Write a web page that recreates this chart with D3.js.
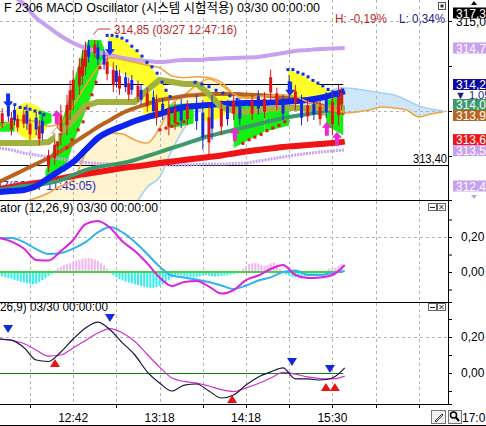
<!DOCTYPE html>
<html><head><meta charset="utf-8">
<script src="https://cdn.jsdelivr.net/npm/d3@7/dist/d3.min.js"></script>
<style>
html,body{margin:0;padding:0;background:#fff;overflow:hidden}
svg{display:block}
text{font-family:"Liberation Sans","Noto Sans CJK KR",sans-serif;}
</style></head><body>
<svg id="chart" width="486" height="426"></svg>
<script>
// ---------------- data ----------------
const sampleIdx = [0,4,8,12,16,20,24,28,32,36,40,44,48,52,56,60,64,68,72,76,80,84,88,92,96,100,104,108,112];
const maLilac = [315.367,315.289,315.189,315.033,314.933,314.833,314.756,314.7,314.656,314.622,314.589,314.567,314.556,314.544,314.556,314.567,314.567,314.578,314.583,314.589,314.594,314.6,314.622,314.644,314.667,314.678,314.689,314.694,314.7];
const bandLower = [313.589,313.567,313.533,313.511,313.489,313.467,313.444,313.428,313.417,313.411,313.406,313.4,313.4,313.4,313.4,313.4,313.406,313.411,313.411,313.417,313.422,313.444,313.467,313.489,313.511,313.528,313.544,313.556,313.567];
const maRed = [313.133,313.156,313.178,313.2,313.222,313.25,313.278,313.3,313.322,313.344,313.367,313.383,313.4,313.422,313.439,313.456,313.472,313.489,313.506,313.528,313.55,313.567,313.583,313.6,313.611,313.622,313.633,313.644,313.66];
const maTeal = [313.122,313.144,313.167,313.178,313.2,313.233,313.289,313.344,313.378,313.4,313.422,313.456,313.5,313.544,313.589,313.633,313.678,313.722,313.756,313.789,313.822,313.856,313.889,313.922,313.944,313.967,313.989,314.011,314.033];
const maBlue = [313.1,313.111,313.122,313.167,313.256,313.344,313.433,313.567,313.7,313.778,313.833,313.889,313.933,313.967,314.011,314.044,314.056,314.067,314.078,314.083,314.089,314.089,314.094,314.1,314.111,314.122,314.144,314.178,314.22];
const maBrown = [313.211,313.278,313.344,313.411,313.478,313.556,313.644,313.733,313.822,313.9,313.978,314.033,314.078,314.122,314.144,314.167,314.178,314.189,314.189,314.189,314.183,314.178,314.167,314.15,314.133,314.111,314.067,314.022,313.97];
const baseLine = [313.644,313.644,313.644,313.644,313.656,313.756,313.9,314.056,314.1,314.1,314.1,314.1,314.233,314.344,314.322,314.3,314.3,314.189,314.044,314.0,313.989,314.011,314.022,314.033,314.033,314.033,314.033,314.033,314.033];
const maOrange = [313.81,313.88,313.9,313.88,313.83,313.86,314.06,314.28,314.48,314.59,314.57,314.54,314.51,314.48,314.39,314.37,314.38,314.37,314.32,314.19,314.14,314.16,314.17,314.18,314.16,314.1,314.06,314.01,313.99];

const spanIdx = [0,4,8,12,16,20,24,28,32,36,40,44,48,52,56,60,64,68,72,76,80,84,88,92,96,100,104,108,112,116,120,124,128,132,136,140,144];
const spanA = [312.878,312.933,312.989,313.033,313.089,313.167,313.233,313.533,313.689,313.756,313.744,313.678,313.644,313.811,314.078,314.178,314.289,314.356,314.289,314.189,314.156,314.133,314.1,314.056,314.022,313.989,313.956,313.967,313.978,313.989,314.011,314.044,314.033,314.011,313.933,313.967,313.989];
const spanB = [312.567,312.589,312.611,312.633,312.656,312.678,312.7,312.722,312.744,312.811,312.9,312.967,313.156,313.267,313.567,313.811,313.978,314.044,314.044,314.044,314.044,314.056,314.078,314.111,314.144,314.167,314.2,314.233,314.256,314.244,314.222,314.2,314.178,314.122,314.056,314.022,314.0];

const refLines = [314.30, 313.40];

const greenBand1 = [[15,313.33,313.28],[18,313.61,313.28],[21,313.96,313.33],[23,314.19,313.53],[25,314.43,313.73],[27,314.66,313.91],[29,314.79,314.09],[31,314.79,314.29],[33,314.79,314.54],[34,314.70,314.61]];
const greenBand2 = [[0,313.88,313.77],[5,313.88,313.77]];
const greenBand3 = [[13,314.01,313.82],[17,313.97,313.87]];
const greenBand4 = [[55,314.07,313.81],[59,314.08,313.83],[63,314.09,313.86]];
const greenBand5 = [[76,314.06,313.59],[81,314.07,313.68],[86,314.07,313.77]];
const greenBand6 = [[86,314.03,313.77],[94,314.01,313.84]];
const greenBand7 = [[106,314.12,313.84],[111.5,314.18,313.73]];
const yellowBand1 = [[4.5,313.99,313.84],[6.8,314.07,313.73],[10,314.09,313.68],[13.2,314.03,313.73],[15.5,313.92,313.81]];
const yellowBand2 = [[35.3,314.83,314.51],[39.2,314.81,314.43],[44,314.68,314.34],[48.9,314.51,314.26],[53.7,314.26,314.14],[55.4,314.16,314.12]];
const yellowBand3 = [[46.6,314.21,313.96],[54.7,314.2,314.0]];
const yellowBand4 = [[66,314.21,313.88],[70,314.2,313.9],[74.8,314.19,313.99]];
const yellowBand5 = [[93.6,314.46,314.12],[97.5,314.41,314.12],[102.4,314.32,314.12],[107.9,314.21,314.12]];

const candleI = [1,3,4,5,6,8,9,10,12,13,14,16,18,19,20,22,23,24,26,27,28,29,31,32,34,35,37,38,39,41,42,43,45,46,48,50,51,53,55,57,59,61,64,66,68,69,72,74,76,78,82,84,86,88,90,92,94,96,98,100,102,104,106,108,110,111];
const candleHi = [314.03,314.12,313.99,314.07,313.96,314.01,314.07,313.92,313.99,313.90,313.96,313.57,313.70,313.90,314.07,314.18,314.34,314.46,314.59,314.68,314.77,314.79,314.79,314.77,314.68,314.62,314.54,314.51,314.46,314.43,314.37,314.40,314.34,314.29,314.26,314.23,314.18,314.14,314.12,314.10,314.14,314.12,314.18,314.12,314.07,314.18,314.12,314.12,314.18,314.14,314.18,314.23,314.21,314.46,314.26,314.18,314.40,314.29,314.18,314.12,314.14,314.12,314.21,314.23,314.29,314.26];
const candleLo = [313.81,313.88,313.73,313.84,313.77,313.81,313.79,313.68,313.73,313.62,313.68,313.32,313.40,313.51,313.62,313.73,313.90,314.01,314.18,314.29,314.40,314.54,314.59,314.51,314.46,314.34,314.21,314.26,314.18,314.21,314.12,314.18,314.10,314.07,313.99,313.92,313.84,313.90,313.73,313.79,313.81,313.84,313.79,313.57,313.51,313.68,313.73,313.84,313.90,313.84,313.90,313.96,313.92,314.12,314.01,313.90,314.12,314.01,313.84,313.88,313.90,313.84,313.92,313.73,313.84,314.01];
const candleUp = [1,0,1,0,1,1,0,1,0,1,0, 1,1,1,1,1,1,1,1,1,1,0,1,0, 0,1,1,0,1,0,1,0,1,0,1,0,1,0, 1,1,0,1,0,0,1,0,1,0,1,0, 1,0,1,1,1,0,0,1,0,1,0,1,0,1,1,1];

const blueDotI = [3.5,5.1,6.8,8.4,10,11.6,13.2,14.5, 35,36.6,38.2,39.8,41.4,43,44.7,46.3,47.9,49.5,51.2,52.8,54.1,55.4, 63.5,65.7,68,70.3,72.5,74.8,77.1, 93.6,95.2,96.8,98.5,100.1,101.7,103.3,104.9,106.6,108.2,109.8];
const blueDotP = [314.09,314.07,314.04,314.03,314.02,314.0,313.98,313.96, 314.84,314.84,314.83,314.81,314.78,314.72,314.67,314.61,314.54,314.49,314.42,314.32,314.23,314.16, 314.32,314.3,314.27,314.23,314.2,314.17,314.13, 314.46,314.46,314.43,314.41,314.38,314.34,314.31,314.28,314.24,314.21,314.17];
const redDotI = [22,23.6,25.6,27.2,28.8,30.1,31.4,32.7, 52.1,54.1,56,57.9,59.9, 79,81,82.9,84.9,86.8,88.7,90.7,92.6];
const redDotP = [313.59,313.68,313.79,313.88,314.03,314.18,314.32,314.48, 313.79,313.81,313.83,313.86,313.88, 313.64,313.68,313.71,313.74,313.78,313.81,313.84,313.88];

const upArrowI = [18.7, 76.4, 106.2, 109.5];
const upArrowP = [314.01, 313.82, 313.88, 313.77];
const whiteArrowI = [18.7];
const whiteArrowP = [313.82];
const downArrowI = [2.9, 35.9, 94.3];
const downArrowP = [314.04, 314.62, 314.17];
const highI = 30.5, highP = 314.85;

const tagVals = [317.30, 314.70, 314.25, 314.03, 313.95, 313.68, 313.56, 312.44];
const tagColors = ["#000000","#c8a0f0","#0c0ca0","#3c9a6a","#b8641e","#f01414","#c8a0f0","#c8a0f0"];
const diffText = "▼ 1,05";

const macdMid = [0.194,0.174,0.134,0.069,0.066,0.12,0.183,0.274,0.291,0.251,0.174,0.12,0.049,-0.031,-0.08,-0.057,-0.051,-0.083,-0.123,-0.103,-0.046,-0.02,0.017,0.04,-0.017,-0.034,-0.031,-0.017,0.04];
const signalMid = [0.194,0.194,0.171,0.131,0.103,0.109,0.134,0.171,0.226,0.257,0.226,0.171,0.103,0.031,-0.02,-0.031,-0.043,-0.057,-0.077,-0.097,-0.077,-0.049,-0.031,0,0.009,-0.017,-0.017,-0.006,0.006];
const histMid = [-0.02,-0.025,-0.03,-0.034,-0.038,-0.045,-0.05,-0.056,-0.06,-0.064,-0.068,-0.069,-0.066,-0.058,-0.046,-0.035,-0.022,-0.01,
 0.01,0.02,0.03,0.04,0.045,0.05,0.058,0.065,0.07,0.075,0.078,0.08,0.078,0.072,0.062,0.05,0.036,0.02,
 -0.005,-0.018,-0.03,-0.04,-0.048,-0.055,-0.06,-0.065,-0.07,-0.075,-0.08,-0.085,-0.088,-0.09,-0.09,-0.086,-0.08,-0.07,-0.058,-0.045,-0.032,
 -0.022,-0.018,-0.02,-0.024,-0.028,-0.03,-0.03,-0.028,-0.025,-0.02,-0.018,-0.02,-0.024,-0.026,-0.025,-0.022,-0.02,-0.018,-0.015,-0.012,-0.008,-0.004,
 0.02,0.035,0.045,0.05,0.05,0.048,0.04,0.035,0.04,0.05,0.055,0.04,
 0.02,-0.005,-0.015,-0.022,-0.028,-0.03,-0.03,-0.028,-0.025,-0.025,-0.022,-0.02,-0.015,-0.01,-0.005,
 0.01,0.02,0.015,0.025,0.035,0.046];

const macdBot = [0.189,0.183,0.142,0.072,0.064,0.117,0.189,0.25,0.283,0.239,0.167,0.1,0.006,-0.056,-0.1,-0.067,-0.061,-0.1,-0.139,-0.122,-0.067,-0.022,0.006,0.028,-0.033,-0.033,-0.039,-0.028,0.028];
const signalBot = [0.189,0.181,0.164,0.128,0.094,0.1,0.139,0.181,0.222,0.247,0.222,0.175,0.103,0.033,-0.028,-0.047,-0.056,-0.072,-0.092,-0.103,-0.083,-0.058,-0.028,0.003,-0.006,-0.022,-0.031,-0.033,-0.017];
const sellMarkI = [2.9, 35.9, 94.9, 107.2];
const sellMarkV = [0.244, 0.306, 0.061, 0.022];
const buyMarkI = [18.1, 75.5, 105.9, 108.8];
const buyMarkV = [0.056, -0.144, -0.078, -0.078];

const gridIdx = [10,24,38,52,66,80,94,108,122,136];
const timeLabelIdx = [24,52,80,108];
const timeLabels = ["12:42","13:18","14:18","15:30"];
const lastIdx = 111.5;

// ---------------- drawing ----------------
const svg = d3.select("#chart");
const PR = 448;
const x = d3.scaleLinear().domain([10,136]).range([30,418.8]);
const yT = d3.scaleLinear().domain([313.5,315]).range([156,21]);
const yM = d3.scaleLinear().domain([0,0.2]).range([272,237]);
const yB = d3.scaleLinear().domain([0,0.2]).range([373,337]);
const fmt = v => d3.format(".2f")(v).replace(".", ",");

const defs = svg.append("defs");
function clipRect(id,x0,y0,w,h){defs.append("clipPath").attr("id",id).append("rect").attr("x",x0).attr("y",y0).attr("width",w).attr("height",h);}
clipRect("cTop",0,0,PR,200); clipRect("cMid",0,201,PR,101); clipRect("cBot",0,303,PR,101);
const spanPts = spanIdx.map((d,k)=>({i:d,a:spanA[k],b:spanB[k]}));
defs.append("clipPath").attr("id","aboveB").append("path")
  .attr("d", d3.area().x(d=>x(d.i)).y0(-50).y1(d=>yT(d.b)).curve(d3.curveMonotoneX)(spanPts));
defs.append("clipPath").attr("id","belowB").append("path")
  .attr("d", d3.area().x(d=>x(d.i)).y0(d=>yT(d.b)).y1(450).curve(d3.curveMonotoneX)(spanPts));

// ---- top panel ----
const gT = svg.append("g").attr("clip-path","url(#cTop)");
const cloud = d3.area().x(d=>x(d.i)).y0(d=>yT(d.a)).y1(d=>yT(d.b)).curve(d3.curveMonotoneX);
gT.append("g").attr("clip-path","url(#aboveB)").append("path").attr("d",cloud(spanPts)).attr("fill","#fff4cf");
gT.append("g").attr("clip-path","url(#belowB)").append("path").attr("d",cloud(spanPts)).attr("fill","#cde6fa");

function vGrid(g,y0,y1){
  g.selectAll(null).data(gridIdx).enter().append("line")
   .attr("x1",d=>Math.round(x(d))+0.5).attr("x2",d=>Math.round(x(d))+0.5).attr("y1",y0).attr("y2",y1)
   .attr("stroke","#b4b4b4").attr("stroke-dasharray","3,3");
}
function hGrid(g,yy){
  g.append("line").attr("x1",0).attr("x2",PR).attr("y1",Math.round(yy)+0.5).attr("y2",Math.round(yy)+0.5)
   .attr("stroke","#b4b4b4").attr("stroke-dasharray","3,3");
}
vGrid(gT,0,200);
[315.0,314.0].forEach(p=>hGrid(gT,yT(p)));

gT.append("line").attr("x1",0).attr("x2",x(lastIdx)).attr("y1",Math.round(yT(refLines[0]))+0.5).attr("y2",Math.round(yT(refLines[0]))+0.5).attr("stroke","#000");
gT.append("line").attr("x1",0).attr("x2",PR).attr("y1",Math.round(yT(refLines[1]))+0.5).attr("y2",Math.round(yT(refLines[1]))+0.5).attr("stroke","#000");

gT.append("text").attr("x",96).attr("y",190).attr("text-anchor","end").attr("font-size",12).attr("fill","#2a2ac8").text("312,47(03/27 11:45:05)");

const spanLine = key => d3.line().x(d=>x(d.i)).y(d=>yT(d[key])).curve(d3.curveMonotoneX);
gT.append("path").attr("d",spanLine("b")(spanPts)).attr("fill","none").attr("stroke","#a4d2f4").attr("stroke-width",1.6);
gT.append("path").attr("d",spanLine("a")(spanPts)).attr("fill","none").attr("stroke","#f0a43c").attr("stroke-width",1.6);

function band(g,data,color,curve){
  g.append("path").attr("d",d3.area().x(d=>x(d[0])).y0(d=>yT(d[1])).y1(d=>yT(d[2])).curve(curve||d3.curveLinear)(data))
   .attr("fill",color);
}
[yellowBand1].forEach(b=>band(gT,b,"#ffff28",d3.curveCardinal));
[yellowBand2,yellowBand3,yellowBand4,yellowBand5].forEach(b=>band(gT,b,"#ffff28"));
[greenBand1,greenBand2,greenBand3,greenBand4,greenBand5,greenBand6,greenBand7].forEach(b=>band(gT,b,"#14f014"));

function maLine(vals,color,w,curve,dash){
  const p = gT.append("path").datum(sampleIdx.map((d,k)=>[d,vals[k]]))
   .attr("d",d3.line().x(d=>x(d[0])).y(d=>yT(d[1])).curve(curve||d3.curveMonotoneX))
   .attr("fill","none").attr("stroke",color).attr("stroke-width",w);
  if(dash) p.attr("stroke-dasharray",dash);
}
maLine(bandLower,"#c8a0f0",3,null,"2,1");
maLine(maLilac,"#c8a0f0",4);
maLine(maRed,"#f01414",6);
maLine(maTeal,"#3c9a6a",4);
maLine(maBrown,"#b8641e",4);
maLine(maBlue,"#0c24f0",6);
maLine(baseLine,"#a0b23c",6,d3.curveLinear);
maLine(maOrange,"#f0a43c",1.6);

const cData = candleI.map((d,k)=>({i:d,h:candleHi[k],l:candleLo[k],u:candleUp[k]}));
const cg = gT.append("g");
cg.selectAll("line").data(cData).enter().append("line")
  .attr("x1",d=>x(d.i)).attr("x2",d=>x(d.i)).attr("y1",d=>yT(d.h)).attr("y2",d=>yT(d.l))
  .attr("stroke",d=>d.u?"#e01414":"#1428e0").attr("stroke-width",1);
cg.selectAll("rect").data(cData).enter().append("rect")
  .attr("x",d=>x(d.i)-1.5).attr("width",3)
  .attr("y",d=>yT(d.h)+(yT(d.l)-yT(d.h))*0.25).attr("height",d=>(yT(d.l)-yT(d.h))*0.5)
  .attr("fill",d=>d.u?"#e01414":"#1428e0");

gT.selectAll(null).data(blueDotI.map((d,k)=>[d,blueDotP[k]])).enter().append("rect")
  .attr("x",d=>x(d[0])-1.5).attr("y",d=>yT(d[1])-1.5).attr("width",3).attr("height",3).attr("fill","#1030e0");
gT.selectAll(null).data(redDotI.map((d,k)=>[d,redDotP[k]])).enter().append("rect")
  .attr("x",d=>x(d[0])-1.5).attr("y",d=>yT(d[1])-1.5).attr("width",3).attr("height",3).attr("fill","#e01414");

const upPath = "M0,0 L5,6 L2,6 L2,14 L-2,14 L-2,6 L-5,6 Z";
const downPath = "M0,0 L5,-6 L2,-6 L2,-14 L-2,-14 L-2,-6 L-5,-6 Z";
gT.selectAll(null).data(upArrowI.map((d,k)=>[d,upArrowP[k]])).enter().append("path")
  .attr("d",upPath).attr("transform",d=>`translate(${x(d[0])},${yT(d[1])})`).attr("fill","#f028d0");
gT.selectAll(null).data(whiteArrowI.map((d,k)=>[d,whiteArrowP[k]])).enter().append("path")
  .attr("d",upPath).attr("transform",d=>`translate(${x(d[0])},${yT(d[1])})`).attr("fill","#ffffff").attr("stroke","#9aa040").attr("stroke-width",0.8);
gT.selectAll(null).data(downArrowI.map((d,k)=>[d,downArrowP[k]])).enter().append("path")
  .attr("d",downPath).attr("transform",d=>`translate(${x(d[0])},${yT(d[1])})`).attr("fill","#1030f0");

gT.append("path").attr("d",`M${x(highI)+17},29 H${x(highI)+5} L${x(highI)},${yT(highP)}`).attr("fill","none").attr("stroke","#d03030").attr("stroke-width",1);
svg.append("text").attr("x",114).attr("y",34).attr("font-size",12).attr("fill","#c02828").attr("textLength",123).attr("lengthAdjust","spacingAndGlyphs").text("314,85 (03/27 12:47:16)");
svg.append("text").attr("x",4).attr("y",12).attr("font-size",13).attr("fill","#000").attr("textLength",316).attr("lengthAdjust","spacingAndGlyphs").text("F 2306 MACD Oscillator (시스템 시험적용) 03/30 00:00:00");
svg.append("text").attr("x",335).attr("y",23).attr("font-size",12).attr("fill","#c02828").attr("textLength",52).attr("lengthAdjust","spacingAndGlyphs").text("H: -0,19%");
svg.append("text").attr("x",399).attr("y",23).attr("font-size",12).attr("fill","#1c1c8c").attr("textLength",46).attr("lengthAdjust","spacingAndGlyphs").text("L: 0,34%");
svg.append("text").attr("x",413).attr("y",163).attr("font-size",12).attr("fill","#000").attr("textLength",34).attr("lengthAdjust","spacingAndGlyphs").text(fmt(refLines[1]));
svg.append("rect").attr("x",438.5).attr("y",2.5).attr("width",7).attr("height",7).attr("fill","#fff").attr("stroke","#555");
svg.append("rect").attr("x",440.5).attr("y",4.5).attr("width",3).attr("height",3).attr("fill","#333");

// ---- middle panel ----
const gM = svg.append("g").attr("clip-path","url(#cMid)");
vGrid(gM,201,302);
hGrid(gM,yM(0.2));
gM.selectAll("rect").data(histMid).enter().append("rect")
  .attr("x",(d,i)=>x(i)-1).attr("width",2)
  .attr("y",d=>d>0?yM(d):yM(0)).attr("height",d=>Math.abs(yM(d)-yM(0)))
  .attr("fill",d=>d>0?"#f4b4f0":"#30f0f0");
gM.append("line").attr("x1",0).attr("x2",x(lastIdx)).attr("y1",yM(0)).attr("y2",yM(0)).attr("stroke","#48d048").attr("stroke-width",2);
const lineM = d3.line().x((d,k)=>x(sampleIdx[k])).y(d=>yM(d)).curve(d3.curveMonotoneX);
gM.append("path").attr("d",lineM(signalMid)).attr("fill","none").attr("stroke","#30b4e8").attr("stroke-width",2);
gM.append("path").attr("d",lineM(macdMid)).attr("fill","none").attr("stroke","#e020e0").attr("stroke-width",2);
svg.append("text").attr("x",0).attr("y",212).attr("font-size",12).attr("textLength",158).attr("lengthAdjust","spacingAndGlyphs").text("ator  (12,26,9) 03/30 00:00:00");

// ---- bottom panel ----
const gB = svg.append("g").attr("clip-path","url(#cBot)");
vGrid(gB,303,404);
hGrid(gB,yB(0.2));
gB.append("line").attr("x1",0).attr("x2",x(lastIdx)).attr("y1",Math.round(yB(0))+0.5).attr("y2",Math.round(yB(0))+0.5).attr("stroke","#108010");
const lineB = d3.line().x((d,k)=>x(sampleIdx[k])).y(d=>yB(d)).curve(d3.curveMonotoneX);
gB.append("path").attr("d",lineB(signalBot)).attr("fill","none").attr("stroke","#d030d0").attr("stroke-width",1.2);
gB.append("path").attr("d",lineB(macdBot)).attr("fill","none").attr("stroke","#14143c").attr("stroke-width",1.2);
gB.selectAll(null).data(sellMarkI.map((d,k)=>[d,sellMarkV[k]])).enter().append("path")
  .attr("d","M-5,-4 L5,-4 L0,4 Z").attr("transform",d=>`translate(${x(d[0])},${yB(d[1])})`).attr("fill","#1428d8");
gB.selectAll(null).data(buyMarkI.map((d,k)=>[d,buyMarkV[k]])).enter().append("path")
  .attr("d","M-5,4 L5,4 L0,-4 Z").attr("transform",d=>`translate(${x(d[0])},${yB(d[1])})`).attr("fill","#e81414");
svg.append("text").attr("x",0).attr("y",311).attr("font-size",12).attr("textLength",108).attr("lengthAdjust","spacingAndGlyphs").text("26,9) 03/30 00:00:00");

[203,303].forEach(yy=>{
  svg.append("rect").attr("x",428.5).attr("y",yy+0.5).attr("width",8).attr("height",7).attr("fill","#fff").attr("stroke","#666");
  svg.append("line").attr("x1",430).attr("x2",435).attr("y1",yy+4.5).attr("y2",yy+4.5).attr("stroke","#222");
  svg.append("rect").attr("x",437.5).attr("y",yy+0.5).attr("width",8).attr("height",7).attr("fill","#fff").attr("stroke","#666");
  svg.append("path").attr("d",`M439.5,${yy+2} L443.5,${yy+6} M443.5,${yy+2} L439.5,${yy+6}`).attr("stroke","#222");
});

// ---- frame & axes ----
svg.append("line").attr("x1",PR+0.5).attr("x2",PR+0.5).attr("y1",0).attr("y2",404).attr("stroke","#000");
[200,302,404].forEach(yy=>svg.append("line").attr("x1",0).attr("x2",PR+4).attr("y1",yy+0.5).attr("y2",yy+0.5).attr("stroke","#000"));
svg.append("line").attr("x1",0).attr("x2",486).attr("y1",425.5).attr("y2",425.5).attr("stroke","#000");

function rAxis(scale,vals,labels){
  const g = svg.append("g").attr("transform",`translate(${PR},0)`)
   .call(d3.axisRight(scale).tickValues(vals).tickSize(4).tickPadding(9)
     .tickFormat(d=>labels.indexOf(d)>=0?fmt(d):""));
  g.select(".domain").remove();
  g.selectAll("text").attr("font-size",12).attr("font-family","Liberation Sans").attr("fill","#000");
  return g;
}
rAxis(yT,[315.0,314.5,314.0,313.5],[]);
rAxis(yM,[0.3,0.2,0.1,0,-0.1],[0.2,0]);
rAxis(yB,[0.3,0.2,0.1,0,-0.1],[0.2,0]);

// top price tags (stacked upward when they collide)
svg.append("text").attr("x",456).attr("y",yT(315.0)+5).attr("font-size",12).text(fmt(315.0));
const tags = tagVals.map((v,k)=>({v,c:tagColors[k],y:Math.max(13,Math.min(186,yT(v)))}));
const order = tags.slice().sort((a,b)=>b.y-a.y);
const diffItem = {diff:true, y:tags[2].y+10};
const stack = [];
order.forEach(t=>{ stack.push(t); if(t===tags[3]) stack.push(diffItem); });
for(let k=1;k<stack.length;k++){
  const gap = (stack[k].diff||stack[k-1].diff)?10:11;
  if(stack[k].y>stack[k-1].y-gap) stack[k].y=stack[k-1].y-gap;
}
tags.forEach(t=>{
  svg.append("rect").attr("x",453).attr("y",t.y-5.5).attr("width",34).attr("height",11).attr("fill",t.c);
  svg.append("text").attr("x",456).attr("y",t.y+4.5).attr("font-size",12).attr("fill","#fff").text(fmt(t.v));
});
svg.append("text").attr("x",455).attr("y",diffItem.y+4).attr("font-size",11).attr("fill","#1c1c8c").text(diffText);
svg.append("path").attr("d","M471,5 L477,5 L474,1 Z").attr("fill","#000");
svg.append("path").attr("d","M471,195 L477,195 L474,199 Z").attr("fill","#c8a0f0");

// time axis
svg.selectAll(null).data(gridIdx.filter(d=>d!==24&&d!==52)).enter().append("line")
  .attr("x1",d=>Math.round(x(d))+0.5).attr("x2",d=>Math.round(x(d))+0.5).attr("y1",404).attr("y2",408).attr("stroke","#000");
svg.selectAll(null).data(timeLabelIdx).enter().append("text")
  .attr("x",d=>x(d)).attr("y",422).attr("text-anchor","middle").attr("font-size",12).text((d,k)=>timeLabels[k]);
svg.append("rect").attr("x",431.5).attr("y",410.5).attr("width",14).attr("height",13).attr("fill","#f0f0f0").attr("stroke","#777");
svg.append("path").attr("d","M435,421 L442,414 L443,415 L436,422 Z").attr("fill","none").attr("stroke","#333");
svg.append("rect").attr("x",448.5).attr("y",410.5).attr("width",13).attr("height",13).attr("fill","#f0f0f0").attr("stroke","#777");
svg.append("circle").attr("cx",453.5).attr("cy",415).attr("r",3).attr("fill","none").attr("stroke","#000").attr("stroke-width",1.5);
svg.append("line").attr("x1",455.5).attr("y1",417).attr("x2",459).attr("y2",421).attr("stroke","#000").attr("stroke-width",2);
svg.append("text").attr("x",462).attr("y",422).attr("font-size",12).text("17:0");
</script>
</body></html>
